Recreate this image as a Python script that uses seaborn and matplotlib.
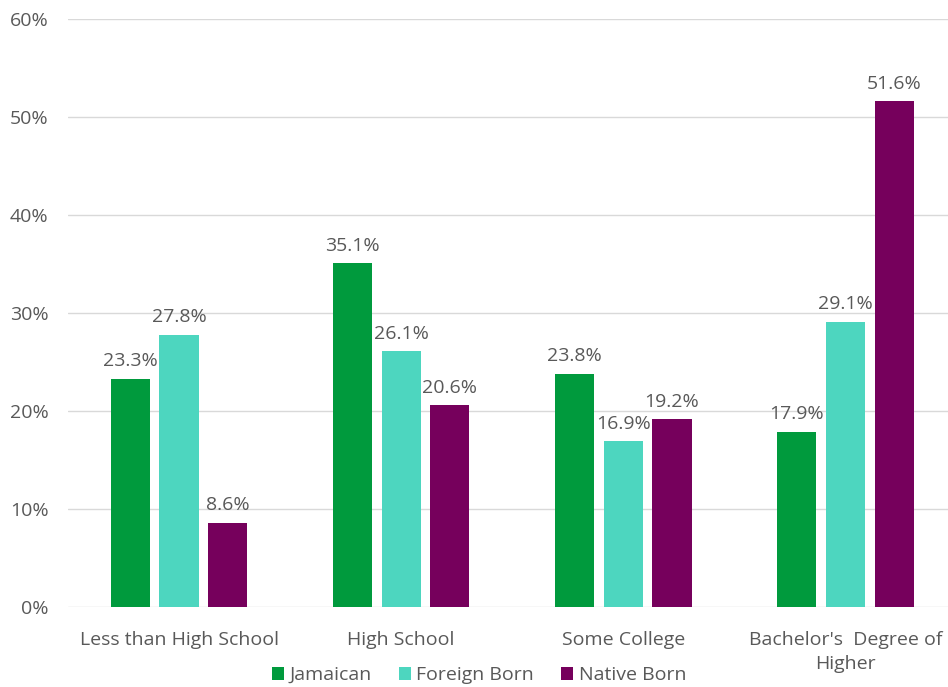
import matplotlib
matplotlib.use("Agg")
import matplotlib.pyplot as plt
import seaborn as sns
import pandas as pd
from matplotlib.ticker import FuncFormatter

# Data
categories = ["Less than High School", "High School", "Some College", "Bachelor's  Degree of\nHigher"]
series = ["Jamaican", "Foreign Born", "Native Born"]
jamaican = [23.3, 35.1, 23.8, 17.9]
foreign_born = [27.8, 26.1, 16.9, 29.1]
native_born = [8.6, 20.6, 19.2, 51.6]
colors = ["#009a3d", "#4dd6bf", "#76005c"]

df = pd.DataFrame({
    "Education": categories * 3,
    "Group": [s for s in series for _ in categories],
    "Share": jamaican + foreign_born + native_born,
})

sns.set_style("white")
plt.rcParams["font.family"] = ["Open Sans", "DejaVu Sans"]
text_color = "#595959"

fig = plt.figure(figsize=(9.48, 6.87), dpi=100)
ax = fig.add_axes([0.0717, 0.1164, 0.937, 0.856])

sns.barplot(data=df, x="Education", y="Share", hue="Group", palette=colors,
            saturation=1, width=0.66, gap=0.2, linewidth=0, ax=ax, zorder=3)

for cont in ax.containers:
    ax.bar_label(cont, labels=[f"{v:.1f}%" for v in cont.datavalues],
                 padding=6, color=text_color, fontsize=14)

ax.set_ylim(0, 60)
ax.set_xlim(-0.5, 3.5)
ax.set_yticks(range(0, 61, 10))
ax.yaxis.set_major_formatter(FuncFormatter(lambda v, p: f"{v:.0f}%"))
ax.grid(axis="y", color="#d9d9d9", linewidth=1, zorder=0)
for s in ax.spines.values():
    s.set_visible(False)
ax.tick_params(axis="both", length=0, colors=text_color, labelsize=14)
ax.tick_params(axis="y", pad=14)
ax.tick_params(axis="x", pad=17)
for lbl in ax.get_xticklabels():
    lbl.set_linespacing(1.45)
ax.set_xlabel("")
ax.set_ylabel("")

handles, labels = ax.get_legend_handles_labels()
ax.legend(handles, labels, loc="center", bbox_to_anchor=(0.463, -0.116),
          ncol=3, frameon=False, fontsize=14, labelcolor=text_color,
          handlelength=0.6, handleheight=0.6, handletextpad=0.3, columnspacing=1.4,
          borderpad=0.1)

fig.savefig("out.png", dpi=100)
